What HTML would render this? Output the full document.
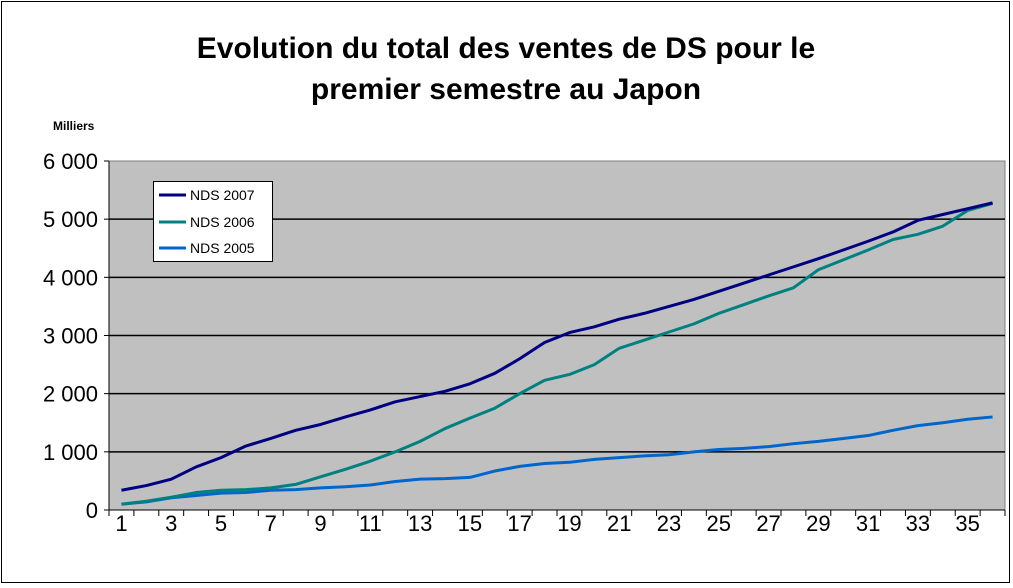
<!DOCTYPE html>
<html><head><meta charset="utf-8"><style>
body{margin:0;background:#fff;}
svg{display:block;font-family:"Liberation Sans",Arial,sans-serif;}
</style></head><body>
<svg width="1013" height="588">
<rect x="1.5" y="1.5" width="1008" height="581" fill="#fff" stroke="#000"/>
<text x="506" y="58" text-anchor="middle" font-size="30" font-weight="bold">Evolution du total des ventes de DS pour le</text>
<text x="506" y="99" text-anchor="middle" font-size="30" font-weight="bold">premier semestre au Japon</text>
<text x="53" y="130" font-size="12" font-weight="bold">Milliers</text>
<rect x="109" y="161" width="896" height="349" fill="#c0c0c0" stroke="#808080"/>
<g id="grid"></g><g id="axes"></g><g id="series"></g>
<g>
<rect x="153.5" y="181.5" width="119" height="80" fill="#fff" stroke="#000"/>
<line x1="159" y1="195" x2="186" y2="195" stroke="#000080" stroke-width="3"/>
<text x="190" y="200" font-size="14">NDS 2007</text>
<line x1="159" y1="222" x2="186" y2="222" stroke="#008080" stroke-width="3"/>
<text x="190" y="227" font-size="14">NDS 2006</text>
<line x1="159" y1="248" x2="186" y2="248" stroke="#0066cc" stroke-width="3"/>
<text x="190" y="253" font-size="14">NDS 2005</text>
</g>
</svg>
<script>
const categories=[1,2,3,4,5,6,7,8,9,10,11,12,13,14,15,16,17,18,19,20,21,22,23,24,25,26,27,28,29,30,31,32,33,34,35,36];
const nds2007=[340,420,530,740,900,1100,1230,1370,1470,1600,1720,1860,1950,2040,2170,2350,2600,2880,3050,3150,3280,3380,3500,3620,3760,3900,4040,4180,4320,4470,4620,4780,4980,5080,5180,5280];
const nds2006=[100,150,220,300,340,350,380,440,570,700,840,1000,1180,1400,1580,1750,2000,2230,2330,2500,2780,2920,3060,3200,3380,3530,3680,3820,4130,4300,4470,4650,4740,4880,5150,5270];
const nds2005=[100,140,210,250,290,300,340,350,380,400,430,490,530,540,560,670,750,800,820,870,900,930,950,1000,1040,1060,1090,1140,1180,1230,1280,1370,1450,1500,1560,1600];
const yTicks=[0,1000,2000,3000,4000,5000,6000];
const yTickLabels=["0","1 000","2 000","3 000","4 000","5 000","6 000"];
const NS="http://www.w3.org/2000/svg";
const L=109,R=1005,T=161,B=510,yMax=6000;
const bw=(R-L)/categories.length;
const xs=i=>L+bw*(i+0.5);
const ys=v=>B-(v/yMax)*(B-T);
function mk(tag,attrs,parent){const e=document.createElementNS(NS,tag);for(const k in attrs)e.setAttribute(k,attrs[k]);parent.appendChild(e);return e;}
const grid=document.getElementById('grid'),axes=document.getElementById('axes'),ser=document.getElementById('series');
yTicks.forEach((v,i)=>{
 const y=ys(v);
 if(v>0&&v<yMax){const g=mk('line',{x1:L,x2:R,y1:y,y2:y,stroke:'#000','stroke-width':1.5},grid);
 
 }
 const t=mk('line',{x1:L-5,x2:L,y1:y,y2:y,stroke:'#000'},axes);
 
 
 const lb=mk('text',{x:L-11,y:y+8,'text-anchor':'end','font-size':22},axes);
 lb.textContent=yTickLabels[i];
 
 
});
const ax=mk('line',{x1:L,x2:L,y1:T,y2:B,stroke:'#000'},axes);


const bx=mk('line',{x1:L,x2:R,y1:B,y2:B,stroke:'#000'},axes);


for(let i=0;i<=categories.length;i++){
 const x=L+bw*i;
 const t=mk('line',{x1:x,x2:x,y1:B,y2:B+6,stroke:'#000'},axes);
 
 
}
categories.forEach((c,i)=>{
 if(i%2===0){const lb=mk('text',{x:xs(i),y:531,'text-anchor':'middle','font-size':22},axes);
 lb.textContent=c;
 
 }
});
[[nds2005,'#0066cc','line-nds-2005'],[nds2006,'#008080','line-nds-2006'],[nds2007,'#000080','line-nds-2007']].forEach(([d,c,n])=>{
 const p=mk('polyline',{points:d.map((v,i)=>xs(i)+','+ys(v)).join(' '),fill:'none',stroke:c,'stroke-width':3,'stroke-linejoin':'round'},ser);
 
 
});
</script>
</body></html>
